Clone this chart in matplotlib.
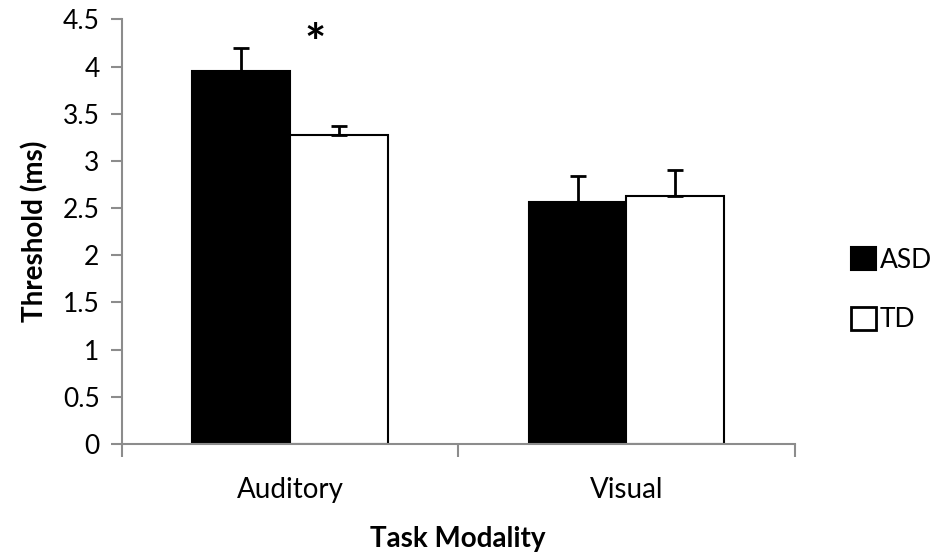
import numpy as np
import matplotlib.pyplot as plt
from matplotlib.patches import Patch

plt.rcParams['font.family'] = ['Lato', 'DejaVu Sans']

# Data
categories = ['Auditory', 'Visual']
asd_means = [3.95, 2.56]
asd_err = [0.25, 0.28]
td_means = [3.27, 2.63]
td_err = [0.10, 0.27]

x = np.arange(len(categories))
width = 0.29
grey = '#8c8c8c'

fig = plt.figure(figsize=(9.37, 5.55), dpi=100)
ax = fig.add_axes([0.130, 0.200, 0.718, 0.765])

ax.bar(x - width / 2, asd_means, width, color='black', edgecolor='black', linewidth=1.5,
       yerr=[np.zeros(len(asd_err)), asd_err], capsize=6,
       error_kw=dict(ecolor='black', elinewidth=2, capthick=2), label='ASD')
ax.bar(x + width / 2, td_means, width, color='white', edgecolor='black', linewidth=1.5,
       yerr=[np.zeros(len(td_err)), td_err], capsize=6,
       error_kw=dict(ecolor='black', elinewidth=2, capthick=2), label='TD')

# significance marker
ax.text(0.075, 4.22, '*', fontsize=36, fontweight='bold', ha='center', va='center')

ax.set_xlim(-0.5, 1.5)
ax.set_ylim(0, 4.5)
ax.set_yticks(np.arange(0, 4.51, 0.5))
ax.set_yticklabels(['0', '0.5', '1', '1.5', '2', '2.5', '3', '3.5', '4', '4.5'])
ax.set_xticks(x)
ax.set_xticklabels(categories)
ax.set_xticks([-0.5, 0.5, 1.5], minor=True)
ax.tick_params(axis='x', which='major', length=0, pad=24, labelsize=20)
ax.tick_params(axis='x', which='minor', length=9, width=1.5, color=grey, direction='out')
ax.tick_params(axis='y', length=8, width=1.5, color=grey, direction='out', pad=8, labelsize=19)

for s in ['top', 'right']:
    ax.spines[s].set_visible(False)
for s in ['left', 'bottom']:
    ax.spines[s].set_color(grey)
    ax.spines[s].set_linewidth(1.5)

ax.set_ylabel('Threshold (ms)', fontsize=20, fontweight='bold', labelpad=10)
ax.set_xlabel('Task Modality', fontsize=20, fontweight='bold', labelpad=16)

handles = [Patch(facecolor='black', edgecolor='black', linewidth=1.5),
           Patch(facecolor='white', edgecolor='black', linewidth=2)]
fig.legend(handles, ['ASD', 'TD'], loc='center left', bbox_to_anchor=(0.908, 0.478),
           frameon=False, fontsize=19, handlelength=0.95, handleheight=0.95,
           handletextpad=0.15, labelspacing=1.3, borderpad=0, borderaxespad=0)

fig.savefig('out.png', dpi=100)
